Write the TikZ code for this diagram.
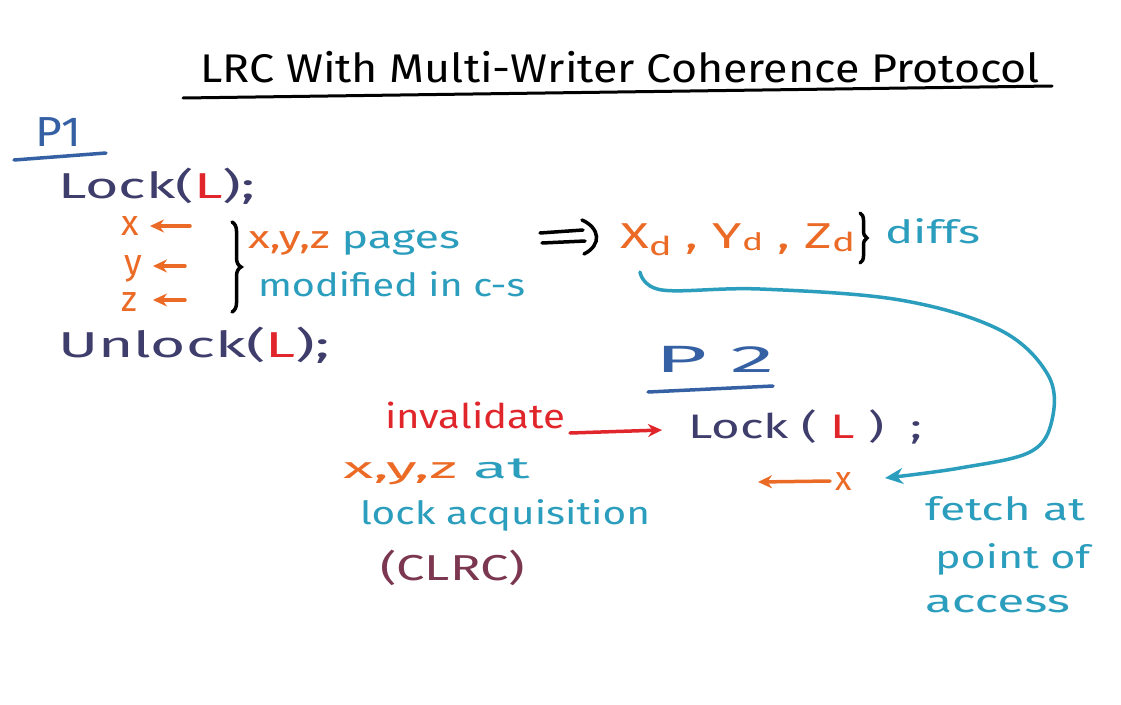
\documentclass[tikz,border=0pt]{standalone}
\usepackage{fontspec}
\setmainfont{Fira Sans}
\usepackage{graphicx}
\usetikzlibrary{arrows.meta,decorations.pathreplacing}
\definecolor{navy}{HTML}{3E3D6B}
\definecolor{pblue}{HTML}{3561A4}
\definecolor{lred}{HTML}{E0252B}
\definecolor{orng}{HTML}{EB6A26}
\definecolor{teal2}{HTML}{2B9DBD}
\definecolor{maroon2}{HTML}{7B3650}
\newcommand{\hw}[2]{\resizebox{#1pt}{\height}{#2}}
\newcommand{\fsz}[1]{\fontsize{#1}{#1}\selectfont}
\tikzset{
  txt/.style={anchor=base west, inner sep=0pt, outer sep=0pt},
  pen/.style={line width=3.5pt, line cap=round},
  arr/.style={pen, -{Stealth[length=14pt,width=13pt]}},
  brc/.style={pen, decorate, decoration={brace, amplitude=9pt}},
}
\begin{document}
\begin{tikzpicture}[x=1pt,y=-1pt]
\useasboundingbox (0,0) rectangle (1121,704);
\fill[white] (0,0) rectangle (1121,704);
% title
\node[txt] (title) at (200,82) {\fsz{40}\hw{840}{LRC With Multi-Writer Coherence Protocol}};
\coordinate (tl1) at (183,98); \coordinate (tl2) at (1052,86);
\draw[pen, line width=3pt] (tl1) -- (tl2);
% P1
\node[txt, text=pblue] (p1) at (35,146) {\fsz{42}\hw{46}{P1}};
\coordinate (pu1) at (14,160); \coordinate (pu2) at (106,153);
\draw[pen, pblue] (pu1) -- (pu2);
\node[txt, text=navy] (lock1) at (58,198) {\fsz{36}\hw{197}{Lock(\textcolor{lred}{L});}};
% x y z
\node[txt, text=orng] (x1) at (121,235) {\fsz{36}x};
\node[txt, text=orng] (y1) at (124,274) {\fsz{36}y};
\node[txt, text=orng] (z1) at (121,311) {\fsz{36}z};
\coordinate (xa1) at (190,226); \coordinate (xa2) at (150,226);
\coordinate (ya1) at (185,266); \coordinate (ya2) at (153,266);
\coordinate (za1) at (185,300); \coordinate (za2) at (153,300);
\draw[arr, orng] (xa1) -- (xa2);
\draw[arr, orng] (ya1) -- (ya2);
\draw[arr, orng] (za1) -- (za2);
\coordinate (b1a) at (232,222); \coordinate (b1b) at (232,312);
\draw[brc] (b1a) -- (b1b);
\node[txt] (pages) at (248,248) {\fsz{32}\hw{212}{\textcolor{orng}{x,y,z} \textcolor{teal2}{pages}}};
\node[txt, text=teal2] (mod) at (258,296) {\fsz{32}\hw{267}{modified in c-s}};
\node[txt, text=navy] (unlock1) at (58,357) {\fsz{36}\hw{272}{Unlock(\textcolor{lred}{L});}};
% implies
\coordinate (im1) at (540,233); \coordinate (im2) at (583,230);
\coordinate (im3) at (542,243); \coordinate (im4) at (585,241);
\coordinate (im5) at (582,220); \coordinate (im6) at (584,254);
\draw[pen] (im1) -- (im2);
\draw[pen] (im3) -- (im4);
\draw[pen] (im5) .. controls (600,228) and (602,245) .. (im6);
% diffs
\node[txt, text=orng] (xd) at (620,248) {\fsz{36}\hw{235}{X\raisebox{-7pt}{\fsz{26}d} , Y\raisebox{-2pt}{\fsz{24}d} , Z\raisebox{-3pt}{\fsz{26}d}}};
\coordinate (b2a) at (860,213); \coordinate (b2b) at (860,263);
\draw[brc, decoration={brace, amplitude=7pt}] (b2a) -- (b2b);
\node[txt, text=teal2] (diffs) at (885,243) {\fsz{32}\hw{95}{diffs}};
% curve
\coordinate (cstart) at (640,272);
\coordinate (cend) at (885,478);
\draw[pen, teal2, -{Stealth[length=18pt,width=16pt]}] plot[smooth, tension=0.6] coordinates {(cstart) (662,290) (760,289) (900,300) (1000,330) (1048,375) (1052,420) (1030,452) (960,468) (cend)};
% P2
\node[txt, text=pblue] (p2) at (655,372) {\fsz{38}\hw{120}{P 2}};
\coordinate (p2u1) at (648,392); \coordinate (p2u2) at (773,386);
\draw[pen, pblue] (p2u1) -- (p2u2);
\node[txt, text=navy] (lock2) at (688,438) {\fsz{34}\hw{234}{Lock ( \textcolor{lred}{L} )\ \ ;}};
% invalidate
\node[txt, text=lred] (inval) at (385,428) {\fsz{34}\hw{180}{invalidate}};
\coordinate (ia1) at (570,433); \coordinate (ia2) at (662,430);
\draw[arr, lred] (ia1) -- (ia2);
\node[txt] (xyzat) at (343,478) {\fsz{30}\hw{187}{\textcolor{orng}{x,y,z} \textcolor{teal2}{at}}};
\node[txt, text=teal2] (lockacq) at (360,524) {\fsz{32}\hw{290}{lock acquisition}};
\node[txt, text=maroon2] (clrc) at (380,580) {\fsz{36}\hw{145}{(CLRC)}};
% x fetch
\node[txt, text=orng] (x2) at (835,490) {\fsz{34}x};
\coordinate (xf1) at (830,481); \coordinate (xf2) at (758,482);
\draw[arr, orng] (xf1) -- (xf2);
\node[txt, text=teal2] (fetch) at (925,520) {\fsz{32}\hw{160}{fetch at}};
\node[txt, text=teal2] (point) at (935,568) {\fsz{32}\hw{155}{point of}};
\node[txt, text=teal2] (access) at (925,612) {\fsz{32}\hw{145}{access}};
\end{tikzpicture}
\end{document}
